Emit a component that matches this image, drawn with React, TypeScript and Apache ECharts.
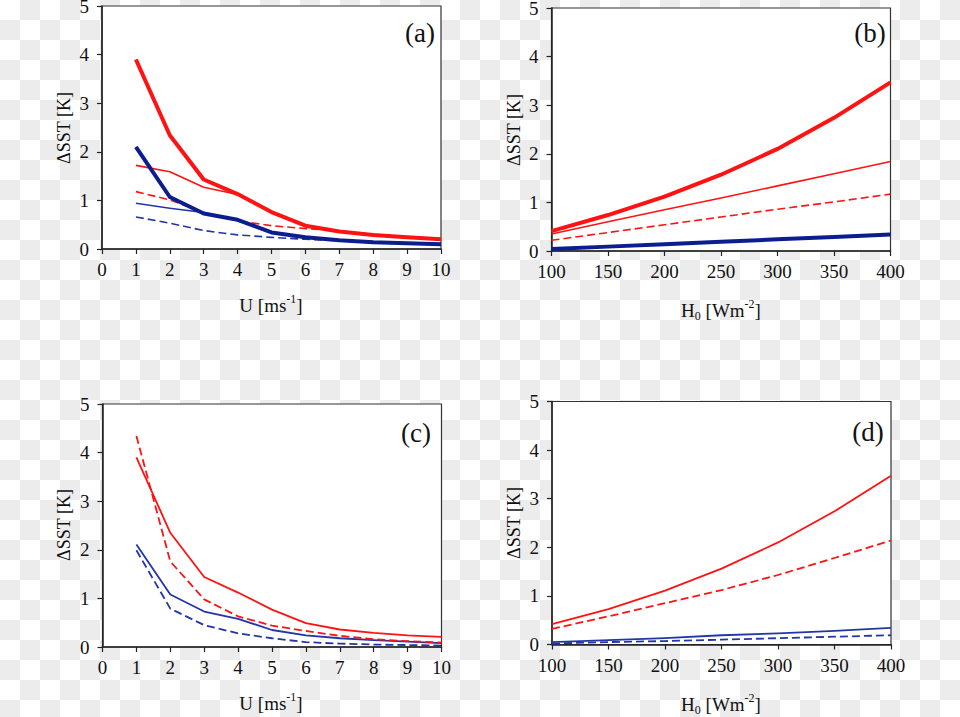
import React, { useEffect, useRef } from "react";
import * as echarts from "echarts";

// ---- data ----
const windSpeed = [1, 2, 3, 4, 5, 6, 7, 8, 9, 10];
const heatFlux = [100, 150, 200, 250, 300, 350, 400];

// panel (a): ΔSST vs U
const aThickRed = [3.9, 2.34, 1.43, 1.13, 0.76, 0.48, 0.36, 0.29, 0.24, 0.2];
const aThinRed = [1.72, 1.59, 1.27, 1.12, 0.76, 0.48, 0.36, 0.29, 0.24, 0.2];
const aDashRed = [1.18, 1.01, 0.75, 0.58, 0.48, 0.42, 0.37, 0.3, 0.25, 0.21];
const aThickBlue = [2.1, 1.07, 0.73, 0.6, 0.34, 0.24, 0.18, 0.14, 0.12, 0.1];
const aThinBlue = [0.94, 0.84, 0.75, 0.6, 0.34, 0.24, 0.18, 0.14, 0.12, 0.1];
const aDashBlue = [0.66, 0.53, 0.38, 0.29, 0.24, 0.2, 0.17, 0.14, 0.12, 0.1];

// panel (b): ΔSST vs H0
const bThickRed = [0.41, 0.74, 1.12, 1.57, 2.1, 2.74, 3.47];
const bThinRed = [0.35, 0.6, 0.85, 1.09, 1.34, 1.59, 1.84];
const bDashRed = [0.22, 0.38, 0.54, 0.7, 0.86, 1.01, 1.17];
const bThickBlue = [0.04, 0.09, 0.14, 0.19, 0.24, 0.29, 0.34];

// panel (c): ΔSST vs U
const cRed = [3.9, 2.35, 1.44, 1.12, 0.77, 0.49, 0.36, 0.29, 0.24, 0.21];
const cDashRed = [4.34, 1.76, 0.98, 0.63, 0.44, 0.33, 0.23, 0.16, 0.12, 0.09];
const cBlue = [2.11, 1.08, 0.73, 0.58, 0.35, 0.24, 0.18, 0.14, 0.11, 0.08];
const cDashBlue = [1.99, 0.79, 0.45, 0.28, 0.18, 0.1, 0.07, 0.05, 0.04, 0.03];

// panel (d): ΔSST vs H0
const dRed = [0.42, 0.73, 1.11, 1.56, 2.1, 2.74, 3.47];
const dDashRed = [0.32, 0.58, 0.85, 1.12, 1.43, 1.78, 2.14];
const dBlue = [0.05, 0.09, 0.13, 0.19, 0.23, 0.28, 0.34];
const dDashBlue = [0.02, 0.05, 0.07, 0.1, 0.13, 0.16, 0.19];

const panelLabels = ["(a)", "(b)", "(c)", "(d)"];
const yTitle = "ΔSST [K]";

const RED = "#fe1212";
const NAVY = "#0b1d8f";
const BLUE = "#2236a6";
const SERIF = "Liberation Serif";
const AXIS = "#222";

function line(
  xs: number[],
  ys: number[],
  idx: number,
  color: string,
  width: number,
  dashed: boolean,
  z: number
) {
  return {
    type: "line",
    xAxisIndex: idx,
    yAxisIndex: idx,
    data: xs.map((x, i) => [x, ys[i]]),
    symbol: "none",
    z,
    lineStyle: { color, width, type: dashed ? [8, 4] : "solid", cap: "butt", join: "round" },
  };
}

function xAxis(idx: number, min: number, max: number, interval: number) {
  return {
    type: "value",
    gridIndex: idx,
    min,
    max,
    interval,
    axisLine: { show: true, onZero: false, lineStyle: { color: AXIS, width: 1.5 } },
    axisTick: { show: true, inside: false, length: 5, lineStyle: { color: AXIS, width: 1.2 } },
    splitLine: { show: false },
    axisLabel: { show: true, margin: 11, color: "#111", fontFamily: SERIF, fontSize: 19 },
  };
}

function yAxis(idx: number) {
  return {
    type: "value",
    gridIndex: idx,
    min: 0,
    max: 5,
    interval: 1,
    axisLine: { show: true, onZero: false, lineStyle: { color: AXIS, width: 1.5 } },
    axisTick: { show: true, inside: false, length: 5, lineStyle: { color: AXIS, width: 1.2 } },
    splitLine: { show: false },
    axisLabel: { show: true, margin: 13, color: "#111", fontFamily: SERIF, fontSize: 19 },
  };
}

const grids = [
  { left: 102, top: 6, width: 339, height: 243 },
  { left: 551.5, top: 8, width: 339, height: 243 },
  { left: 102.5, top: 404, width: 339, height: 243 },
  { left: 552, top: 401.5, width: 339, height: 243 },
];

const labelPos = [
  [420, 33],
  [870, 33],
  [416, 433],
  [868, 432],
];
const yTitlePos = [
  [64, 128],
  [514, 130],
  [64, 525],
  [514, 523],
];
const xTitlePos = [
  [271, 305],
  [721, 310],
  [271, 703],
  [721, 704],
];

const richText = {
  n: { fontSize: 19, fontFamily: SERIF, fill: "#111", lineHeight: 24, verticalAlign: "middle" },
  p: { fontSize: 12, fontFamily: SERIF, fill: "#111", verticalAlign: "top" },
  b: { fontSize: 12, fontFamily: SERIF, fill: "#111", verticalAlign: "bottom" },
};
const uTitle = "{n|U [ms}{p|-1}{n|]}";
const hTitle = "{n|H}{b|0}{n| [Wm}{p|-2}{n|]}";

export default function App() {
  const ref = useRef<HTMLDivElement>(null);

  useEffect(() => {
    if (!ref.current) return;
    const chart = echarts.init(ref.current, null, { renderer: "svg" });

    const graphic: any[] = [];
    panelLabels.forEach((t, i) => {
      graphic.push({
        type: "text",
        x: labelPos[i][0],
        y: labelPos[i][1],
        z: 100,
        style: {
          text: t,
          fontFamily: SERIF,
          fontSize: 27,
          fill: "#111",
          align: "center",
          verticalAlign: "middle",
          textAlign: "center",
          textVerticalAlign: "middle",
        },
      });
      graphic.push({
        type: "text",
        x: yTitlePos[i][0],
        y: yTitlePos[i][1],
        rotation: Math.PI / 2,
        z: 100,
        style: {
          text: yTitle,
          fontFamily: SERIF,
          fontSize: 18,
          fill: "#111",
          align: "center",
          verticalAlign: "middle",
          textAlign: "center",
          textVerticalAlign: "middle",
        },
      });
      graphic.push({
        type: "text",
        x: xTitlePos[i][0],
        y: xTitlePos[i][1],
        z: 100,
        style: {
          text: i % 2 === 0 ? uTitle : hTitle,
          rich: richText,
          fontFamily: SERIF,
          fontSize: 19,
          fill: "#111",
          align: "center",
          verticalAlign: "middle",
          textAlign: "center",
          textVerticalAlign: "middle",
        },
      });
    });

    chart.setOption({
      animation: false,
      backgroundColor: "transparent",
      grid: grids.map((g) => ({
        ...g,
        show: true,
        backgroundColor: "#ffffff",
        borderColor: "#333",
        borderWidth: 1.2,
        containLabel: false,
        outerBoundsMode: "none",
      })),
      xAxis: [
        xAxis(0, 0, 10, 1),
        xAxis(1, 100, 400, 50),
        xAxis(2, 0, 10, 1),
        xAxis(3, 100, 400, 50),
      ],
      yAxis: [yAxis(0), yAxis(1), yAxis(2), yAxis(3)],
      series: [
        // (a)
        line(windSpeed, aDashBlue, 0, BLUE, 1.6, true, 2),
        line(windSpeed, aThinBlue, 0, BLUE, 1.6, false, 2),
        line(windSpeed, aDashRed, 0, RED, 1.6, true, 2),
        line(windSpeed, aThinRed, 0, RED, 1.6, false, 2),
        line(windSpeed, aThickBlue, 0, NAVY, 4, false, 3),
        line(windSpeed, aThickRed, 0, RED, 4, false, 4),
        // (b)
        line(heatFlux, bDashRed, 1, RED, 1.6, true, 2),
        line(heatFlux, bThinRed, 1, RED, 1.6, false, 2),
        line(heatFlux, bThickBlue, 1, NAVY, 4, false, 3),
        line(heatFlux, bThickRed, 1, RED, 4, false, 4),
        // (c)
        line(windSpeed, cDashBlue, 2, BLUE, 1.8, true, 2),
        line(windSpeed, cBlue, 2, BLUE, 1.8, false, 2),
        line(windSpeed, cDashRed, 2, RED, 1.8, true, 2),
        line(windSpeed, cRed, 2, RED, 1.8, false, 2),
        // (d)
        line(heatFlux, dDashBlue, 3, BLUE, 1.8, true, 2),
        line(heatFlux, dBlue, 3, BLUE, 1.8, false, 2),
        line(heatFlux, dDashRed, 3, RED, 1.8, true, 2),
        line(heatFlux, dRed, 3, RED, 1.8, false, 2),
      ],
      graphic,
    });

    return () => chart.dispose();
  }, []);

  return (
    <div
      ref={ref}
      style={{
        position: "absolute",
        left: 0,
        top: 0,
        width: 960,
        height: 717,
        background:
          "repeating-conic-gradient(#ececec 0 25%, #ffffff 0 50%) 0 0 / 40px 40px",
      }}
    />
  );
}
